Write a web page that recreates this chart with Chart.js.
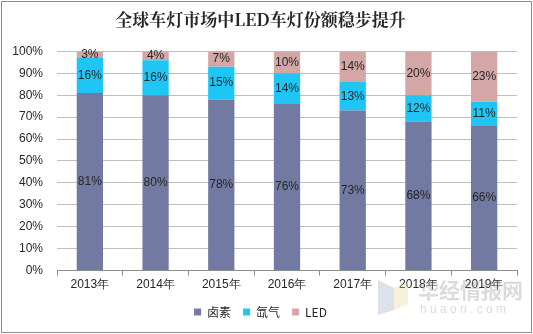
<!DOCTYPE html>
<html>
<head>
<meta charset="utf-8">
<script src="https://cdn.jsdelivr.net/npm/chart.js@4/dist/chart.umd.min.js"></script>
<style>
  body { margin: 0; background: #fff; }
  #wrap { position: relative; width: 533px; height: 334px; }
  #wrap:after { content: ''; position: absolute; left: 1px; top: 1px; right: 1px; bottom: 1px; border: 1px solid #8c8c8c; pointer-events: none; }
</style>
</head>
<body>
<div id="wrap"><canvas id="chart" width="533" height="334"></canvas></div>
<script>
const years = ['2013年', '2014年', '2015年', '2016年', '2017年', '2018年', '2019年'];
const halogen = [81, 80, 78, 76, 73, 68, 66];
const xenon = [16, 16, 15, 14, 13, 12, 11];
const led = [3, 4, 7, 10, 14, 20, 23];
const yTicks = [0, 10, 20, 30, 40, 50, 60, 70, 80, 90, 100];

// 每段中间写百分比
const segmentLabels = {
    id: 'segmentLabels',
    afterDatasetsDraw(chart) {
        const ctx = chart.ctx;
        ctx.save();
        ctx.font = '12px "Liberation Sans", Arial, sans-serif';
        ctx.fillStyle = '#262626';
        ctx.textAlign = 'center';
        ctx.textBaseline = 'middle';
        chart.data.datasets.forEach((ds, i) => {
            chart.getDatasetMeta(i).data.forEach((bar, j) => {
                ctx.fillText(ds.data[j] + '%', bar.x, (bar.y + bar.base) / 2);
            });
        });
        ctx.restore();
    }
};

const watermark = {
    id: 'watermark',
    afterDraw(chart) {
        const ctx = chart.ctx;
        ctx.save();
        ctx.globalAlpha = 0.35;
        ctx.fillStyle = '#9aa9c9';
        ctx.beginPath();
        ctx.moveTo(378, 280); ctx.lineTo(394, 288); ctx.lineTo(394, 310); ctx.lineTo(378, 315);
        ctx.closePath(); ctx.fill();
        ctx.fillStyle = '#e8d89a';
        ctx.beginPath();
        ctx.moveTo(394, 288); ctx.lineTo(408, 282); ctx.lineTo(408, 304); ctx.lineTo(394, 310);
        ctx.closePath(); ctx.fill();
        ctx.fillStyle = '#999';
        ctx.font = 'bold 21px "Noto Sans CJK SC", sans-serif';
        ctx.textAlign = 'left';
        ctx.textBaseline = 'middle';
        ctx.fillText('华经情报网', 418, 290);
        ctx.font = '12px "Liberation Sans", Arial, sans-serif';
        ctx.fillText('h u a o n . c o m', 420, 310);
        ctx.restore();
    }
};

new Chart(document.getElementById('chart'), {
    type: 'bar',
    data: {
        labels: years,
        datasets: [
            { label: '卤素', data: halogen, backgroundColor: '#737aa1' },
            { label: '氙气', data: xenon, backgroundColor: '#1fc5f5' },
            { label: 'LED', data: led, backgroundColor: '#d4a6a6' }
        ]
    },
    options: {
        responsive: false,
        animation: false,
        layout: { padding: { left: 4, right: 16, top: 0, bottom: 6 } },
        datasets: { bar: { barPercentage: 0.4, categoryPercentage: 1 } },
        plugins: {
            title: {
                display: true,
                text: '全球车灯市场中LED车灯份额稳步提升',
                color: '#262626',
                font: { family: '"Noto Serif CJK SC", "Noto Sans CJK SC", serif', size: 17, weight: 'bold' },
                padding: { top: 9, bottom: 22 }
            },
            legend: {
                position: 'bottom',
                labels: {
                    boxWidth: 7, boxHeight: 7, padding: 12,
                    color: '#262626',
                    font: { family: '"Noto Sans CJK SC", sans-serif', size: 12 }
                }
            },
            tooltip: { enabled: false }
        },
        scales: {
            x: {
                stacked: true,
                offset: true,
                grid: { offset: true, drawOnChartArea: false, drawTicks: true, tickLength: 5, color: '#8c8c8c' },
                border: { color: '#8c8c8c' },
                ticks: { color: '#262626', font: { family: '"Liberation Sans", Arial, sans-serif', size: 12 }, padding: 2 }
            },
            y: {
                stacked: true,
                min: 0, max: 100,
                afterBuildTicks(scale) { scale.ticks = yTicks.map(v => ({ value: v })); },
                afterFit(scale) { scale.width = 53; },
                grid: { color: '#bfbfbf', drawTicks: false },
                border: { display: false },
                ticks: {
                    color: '#262626', padding: 14,
                    font: { family: '"Liberation Sans", Arial, sans-serif', size: 12 },
                    callback: v => v + '%'
                }
            }
        }
    },
    plugins: [segmentLabels, watermark]
});
</script>
</body>
</html>
